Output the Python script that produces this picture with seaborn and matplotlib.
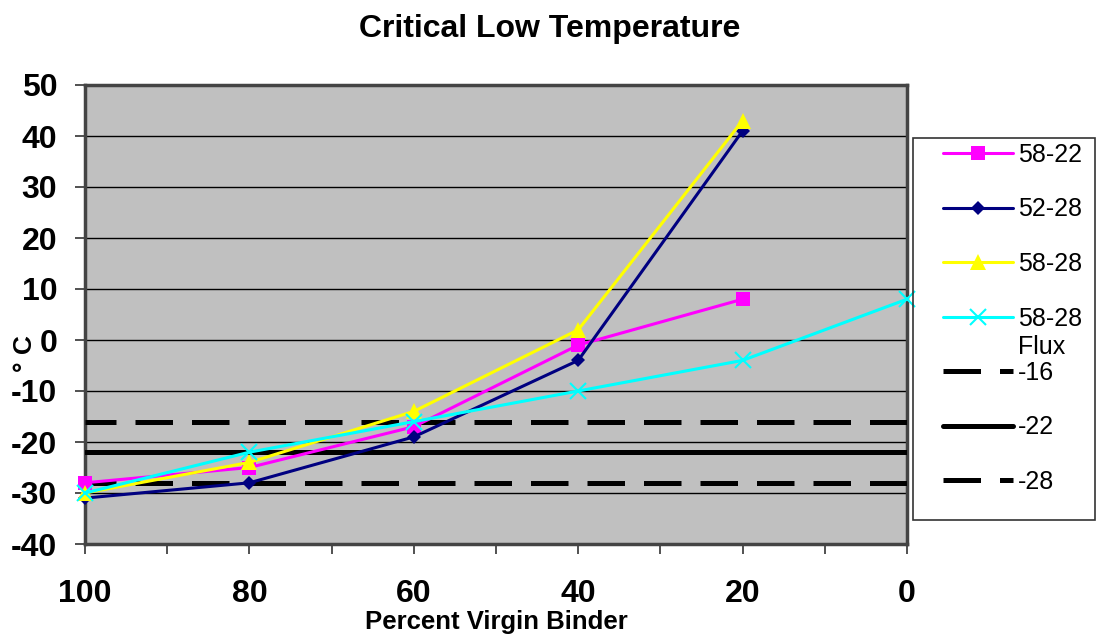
import numpy as np
import pandas as pd
import matplotlib
matplotlib.use("Agg")
import matplotlib.pyplot as plt
from matplotlib.patches import Rectangle
import seaborn as sns

# ---- data ----
pct_virgin = [100, 80, 60, 40, 20, 0]
s_58_22 = [-28, -25, -17, -1, 8, None]
s_52_28 = [-31, -28, -19, -4, 41, None]
s_58_28 = [-30, -24, -14, 2, 43, None]
s_58_28_flux = [-30, -22, -16, -10, -4, 8]
ref_levels = [-16, -22, -28]
ref_labels = ["-16", "-22", "-28"]
series_names = ["58-22", "52-28", "58-28", "58-28"]
flux_note = "Flux"
x_ticks = [100, 80, 60, 40, 20, 0]
y_ticks = [-40, -30, -20, -10, 0, 10, 20, 30, 40, 50]

sns.set_theme(style="white")
plt.rcParams['font.family'] = ['Liberation Sans', 'DejaVu Sans']
plt.rcParams['axes.unicode_minus'] = False
for k in ["text.color", "axes.labelcolor", "xtick.color", "ytick.color"]:
    plt.rcParams[k] = "black"

W, H = 1099, 644
fig = plt.figure(figsize=(W/100, H/100), dpi=100)
ax = fig.add_axes([85/W, 1-544/H, (907-85)/W, (544-85)/H])
ax.set_facecolor("#C0C0C0")

colors = ["#FF00FF", "#000080", "#FFFF00", "#00FFFF"]
markers = ["s", "D", "^", "x"]
msizes = [10, 7, 11, 11]
all_series = [s_58_22, s_52_28, s_58_28, s_58_28_flux]

for name, vals, c, m, ms in zip(series_names, all_series, colors, markers, msizes):
    df = pd.DataFrame({"x": pct_virgin, "y": vals}).dropna()
    sns.lineplot(data=df, x="x", y="y", ax=ax, color=c, marker=m, markersize=ms,
                 markeredgecolor=c, markeredgewidth=1.5 if m == "x" else 0,
                 linewidth=2.2, label=name, zorder=5, clip_on=False)

styles = [(0, (7.5, 3.8)), "-", (0, (7.5, 3.8))]
for lvl, lab, ls in zip(ref_levels, ref_labels, styles):
    df = pd.DataFrame({"x": [pct_virgin[0], pct_virgin[-1]], "y": [lvl, lvl]})
    sns.lineplot(data=df, x="x", y="y", ax=ax, color="black", linewidth=3.6,
                 linestyle=ls, label=lab, zorder=4)

ax.set_xlim(100, 0)
ax.set_ylim(-40, 50)
ax.set_xticks(x_ticks)
ax.set_xticks([90, 70, 50, 30, 10], minor=True)
ax.set_yticks(y_ticks)
ax.grid(axis="y", color="black", linewidth=1.0)
ax.set_axisbelow(True)
for sp in ax.spines.values():
    sp.set_color("#444444")
    sp.set_linewidth(2.5)
ax.tick_params(axis="both", which="both", direction="out", length=7, width=1.2,
               color="#333333", bottom=True, left=True)
ax.tick_params(axis="x", which="major", labelsize=23, pad=18)
ax.tick_params(axis="y", labelsize=23, pad=13)
for lbl in ax.get_xticklabels() + ax.get_yticklabels():
    lbl.set_fontweight("bold")

ax.set_xlabel("Percent Virgin Binder", fontsize=18.5, fontweight="bold", labelpad=1)
ax.set_ylabel("")
fig.text(25/W, 1-354/H, "° C", rotation=90, fontsize=19, fontweight="bold",
         ha="center", va="center")
fig.suptitle("Critical Low Temperature", fontsize=23, fontweight="bold", y=0.978)

# legend frame
fig.patches.append(Rectangle((913/W, 1-520/H), (1095-913)/W, (520-138)/H,
                             transform=fig.transFigure, fill=False,
                             edgecolor="#333333", linewidth=1.2))
leg = ax.legend(loc="upper left", bbox_to_anchor=(943/W, 1-143/H),
                bbox_transform=fig.transFigure, frameon=False,
                fontsize=18, handlelength=2.8, labelspacing=1.22, borderpad=0,
                handletextpad=0.2, borderaxespad=0)

fig.canvas.draw()
t4 = leg.get_texts()[3]
bb = t4.get_window_extent()
fig.text(bb.x0/W, (bb.y0 - 4)/H, flux_note, fontsize=18, ha="left", va="top")

fig.savefig("out.png", dpi=100, facecolor="white")
